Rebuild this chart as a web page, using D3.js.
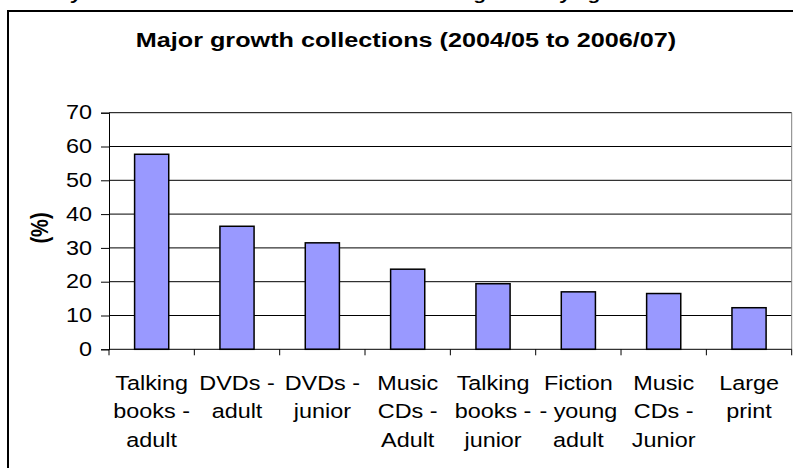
<!DOCTYPE html>
<html>
<head>
<meta charset="utf-8">
<script src="https://cdn.jsdelivr.net/npm/d3@7"></script>
<style>
  body { margin: 0; background: #fff; }
  svg { display: block; }
  text { font-family: "Liberation Sans", Arial, sans-serif; fill: #000; }
</style>
</head>
<body>
<svg id="chart" width="793" height="468"></svg>
<script>
// Collections with the largest growth in stock, 2004/05 to 2006/07
const categories = [
  "Talking|books -|adult",
  "DVDs -|adult",
  "DVDs -|junior",
  "Music|CDs -|Adult",
  "Talking|books -|junior",
  "Fiction|- young|adult",
  "Music|CDs -|Junior",
  "Large|print"
];
const growth = [57.7, 36.4, 31.5, 23.7, 19.4, 17.0, 16.5, 12.3];
const yTicks = [0, 10, 20, 30, 40, 50, 60, 70];
const chartTitle = "Major growth collections (2004/05 to 2006/07)";
const yTitle = "(%)";
const captionAbove = "Library collections with the most marked stock growth by age";

// The chart's lettering is drawn slightly wide
const stretch = 1.2;

const svg = d3.select("#chart");
const plot = { left: 109, right: 791.7, top: 112.7, bottom: 349.3 };

const x = d3.scaleBand()
  .domain(categories)
  .range([plot.left, plot.right])
  .paddingInner(0.6)
  .paddingOuter(0.3);

const y = d3.scaleLinear()
  .domain([0, 70])
  .range([plot.bottom, plot.top]);

// Section caption above the chart, mostly outside the view
const caption = svg.append("text")
  .attr("y", -0.5)
  .attr("font-size", 17)
  .attr("font-weight", "bold")
  .attr("font-style", "italic")
  .text(captionAbove);
const growthAt = captionAbove.indexOf("growth");
const offset = caption.node().getSubStringLength(0, growthAt);
caption.attr("transform", `translate(${475 - offset * stretch},0) scale(${stretch},1)`);

// Chart frame
svg.append("rect")
  .attr("x", 8).attr("y", 11)
  .attr("width", 900).attr("height", 600)
  .attr("fill", "none")
  .attr("stroke", "#000")
  .attr("stroke-width", 2);

// Title
svg.append("text")
  .attr("transform", `translate(406,47) scale(${stretch},1)`)
  .attr("text-anchor", "middle")
  .attr("font-size", 21)
  .attr("font-weight", "bold")
  .text(chartTitle);

// Gridlines
svg.append("g")
  .selectAll("line")
  .data(yTicks.filter(d => d > 0))
  .join("line")
  .attr("x1", plot.left).attr("x2", plot.right)
  .attr("y1", d => y(d)).attr("y2", d => y(d))
  .attr("stroke", "#000")
  .attr("stroke-width", 1);

// Right edge of the plot area
svg.append("line")
  .attr("x1", plot.right).attr("x2", plot.right)
  .attr("y1", plot.top).attr("y2", plot.bottom)
  .attr("stroke", "#808080");

// Bars
svg.append("g")
  .selectAll("rect")
  .data(growth)
  .join("rect")
  .attr("x", (d, i) => x(categories[i]))
  .attr("y", d => y(d))
  .attr("width", x.bandwidth())
  .attr("height", d => y(0) - y(d))
  .attr("fill", "#9999FF")
  .attr("stroke", "#000")
  .attr("stroke-width", 1.5);

// Y axis
const yAxis = svg.append("g")
  .attr("transform", `translate(${plot.left},0)`)
  .call(d3.axisLeft(y).tickValues(yTicks).tickSize(8).tickPadding(9).tickFormat(d3.format("d")));
yAxis.select(".domain").attr("stroke", "#000");
yAxis.selectAll(".tick line").attr("stroke", "#000");
yAxis.selectAll(".tick text")
  .attr("font-size", 19.5)
  .attr("font-family", "'Liberation Sans', Arial, sans-serif")
  .attr("fill", "#000")
  .attr("x", -17 / stretch)
  .attr("transform", `scale(${stretch},1)`);

// X axis line and boundary ticks
const step = x.step();
const boundaries = d3.range(categories.length + 1).map(i => plot.left + i * step);
svg.append("line")
  .attr("x1", plot.left).attr("x2", plot.right)
  .attr("y1", plot.bottom).attr("y2", plot.bottom)
  .attr("stroke", "#000");
svg.append("g")
  .selectAll("line")
  .data(boundaries)
  .join("line")
  .attr("x1", d => d).attr("x2", d => d)
  .attr("y1", plot.bottom).attr("y2", plot.bottom + 6)
  .attr("stroke", "#000");

// Category labels
const labels = svg.append("g")
  .selectAll("text")
  .data(categories)
  .join("text")
  .attr("text-anchor", "middle")
  .attr("font-size", 19.5)
  .attr("transform", d => `translate(${x(d) + x.bandwidth() / 2},0) scale(${stretch},1)`);
labels.selectAll("tspan")
  .data(d => d.split("|"))
  .join("tspan")
  .attr("x", 0)
  .attr("y", (d, i) => 390 + i * 28.5)
  .text(d => d);

// Y axis title
svg.append("text")
  .attr("transform", `translate(40,${(plot.top + plot.bottom) / 2 - 3}) scale(${stretch},1) rotate(-90)`)
  .attr("text-anchor", "middle")
  .attr("dy", "0.35em")
  .attr("font-size", 20)
  .attr("font-weight", "bold")
  .text(yTitle);
</script>
</body>
</html>
